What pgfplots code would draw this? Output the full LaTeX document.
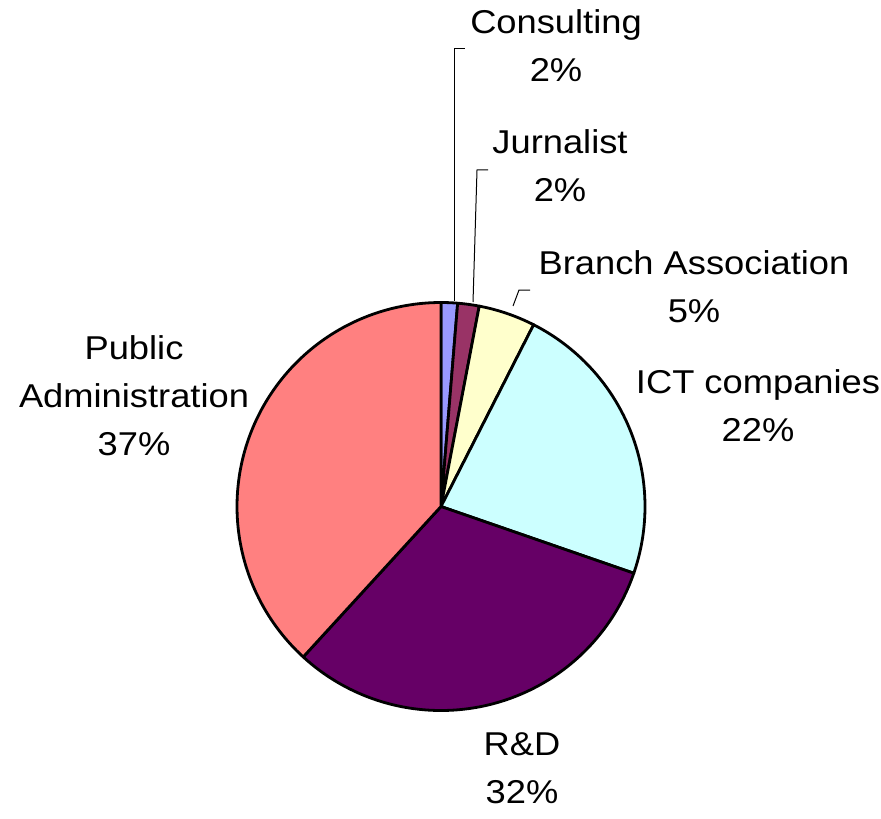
\documentclass[border=0pt]{standalone}
\usepackage{pgfplots}
\pgfplotsset{compat=1.18}
\usepackage{fontspec}
\setmainfont{Liberation Sans}
\definecolor{cConsult}{HTML}{9999FF}
\definecolor{cJurn}{HTML}{993366}
\definecolor{cBranch}{HTML}{FFFFCC}
\definecolor{cICT}{HTML}{CCFFFF}
\definecolor{cRD}{HTML}{660066}
\definecolor{cPA}{HTML}{FF8080}
\tikzset{lbl/.style={font=\fontsize{16.5pt}{24pt}\selectfont, inner sep=0pt}}
\newcommand{\lbltext}[1]{\scalebox{1.1}[1]{\begin{tabular}{@{}c@{}}#1\end{tabular}}}
% slice: cumulative start %, cumulative end %, colour
\newcommand{\slice}[3]{%
  \pgfmathsetmacro{\tA}{90-3.6*#2}%
  \pgfmathsetmacro{\tB}{90-3.6*#1}%
  \addplot[fill=#3, draw=black, line width=1.4pt, line join=round,
    domain=\tA:\tB, samples=80, smooth=false]
    ({441+204*cos(x)},{506.5-204*sin(x)}) -- (441,506.5) -- cycle;
}
\begin{document}
\begin{tikzpicture}
\begin{axis}[
  scale only axis, width=440.5pt, height=405.5pt,
  xmin=0, xmax=881, ymin=0, ymax=811, y dir=reverse,
  hide axis, clip=false,
]
% values (percent): Consulting 1.3, Jurnalist 1.7, Branch Association 4.5,
% ICT companies 22.8, R&D 31.5, Public Administration 38.2
\slice{0}{1.3}{cConsult}
\slice{1.3}{3.0}{cJurn}
\slice{3.0}{7.5}{cBranch}
\slice{7.5}{30.3}{cICT}
\slice{30.3}{61.8}{cRD}
\slice{61.8}{100}{cPA}
% leader lines
\addplot[black, line width=0.5pt] coordinates {(454,301) (454,49) (465,49)};
\addplot[black, line width=0.5pt] coordinates {(473,302) (477,170) (488,170)};
\addplot[black, line width=0.5pt] coordinates {(513,306) (519,290) (530,290)};
% labels
\node[lbl] at (556,48) {\lbltext{Consulting\\2\%}};
\node[lbl] at (560,168) {\lbltext{Jurnalist\\2\%}};
\node[lbl] at (694,289) {\lbltext{Branch Association\\5\%}};
\node[lbl] at (758,408) {\lbltext{ICT companies\\22\%}};
\node[lbl] at (134,398) {\lbltext{Public\\Administration\\37\%}};
\node[lbl] at (522,770) {\lbltext{R\&D\\32\%}};
\end{axis}
\path (current axis.south west) rectangle (current axis.north east);
\end{tikzpicture}
\end{document}
